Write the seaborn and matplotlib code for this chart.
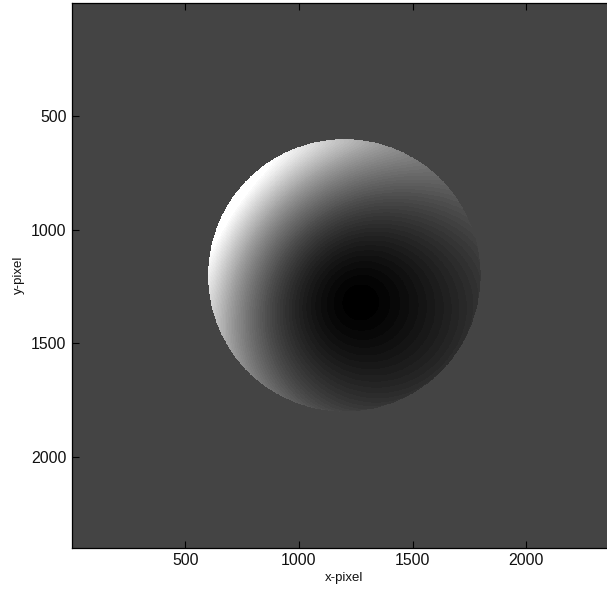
import numpy as np
import matplotlib
matplotlib.use("Agg")
import matplotlib.pyplot as plt
import seaborn as sns

# ---- values ----
image_size = 2400                 # pixels along each side
cell = 2                          # sampling step (pixels per cell)
sphere_center = [1200, 1200]      # x, y (pixel)
sphere_radius = 600               # pixel
dark_normal = [0.113, 0.195]      # lateral normal at darkest spot
tilt = [-0.70, -0.48]             # brightening towards upper-left limb
gain = -0.78
shape_power = 1.6
background_level = 0.267
gray_levels = 64
x_ticks = [500, 1000, 1500, 2000]
y_ticks = [500, 1000, 1500, 2000]
x_label = "x-pixel"
y_label = "y-pixel"

# ---- build image ----
centers = np.arange(cell / 2 + 0.5, image_size + 0.5, cell)
X, Y = np.meshgrid(centers, centers)
nx = (X - sphere_center[0]) / sphere_radius
ny = (Y - sphere_center[1]) / sphere_radius
r2 = nx ** 2 + ny ** 2
inside = r2 <= 1.0
nz = np.sqrt(np.clip(1.0 - r2, 0, None))
dz = np.sqrt(1 - dark_normal[0] ** 2 - dark_normal[1] ** 2)
cosang = np.clip(nx * dark_normal[0] + ny * dark_normal[1] + nz * dz, -1, 1)
sinang = np.sqrt(1.0 - cosang ** 2)
val = sinang ** shape_power * np.exp(gain + tilt[0] * nx + tilt[1] * ny)
val = np.clip(val, 0, 1)
img = np.where(inside, val, background_level)

# ---- plot ----
sns.set_theme(style="ticks")
plt.rcParams["font.family"] = ["Liberation Sans", "DejaVu Sans"]

W, H = 607, 592
fig = plt.figure(figsize=(W / 100, H / 100), dpi=100)
left_px, top_px, bottom_px = 72.0, 2.7, 547.7
ax_h = bottom_px - top_px
ax_w = ax_h  # square image, equal aspect; extends past the right edge
ax = fig.add_axes([left_px / W, (H - bottom_px) / H, ax_w / W, ax_h / H])

cmap = plt.get_cmap("gray", gray_levels)
ax.imshow(img, cmap=cmap, vmin=0, vmax=1, interpolation="nearest",
          extent=(0.5, image_size + 0.5, image_size + 0.5, 0.5), aspect="auto")

ax.set_xticks(x_ticks)
ax.set_yticks(y_ticks)
ax.tick_params(direction="in", length=5, width=0.8, color="black",
               top=True, right=True, labelsize=11.4, labelcolor="#111111", pad=4)
for s in ax.spines.values():
    s.set_color("black")
    s.set_linewidth(0.9)
ax.set_xlabel(x_label, fontsize=9.5, labelpad=3, color="#111111")
ax.set_ylabel(y_label, fontsize=9.5, labelpad=4, color="#111111")

fig.savefig("out.png", dpi=100)
